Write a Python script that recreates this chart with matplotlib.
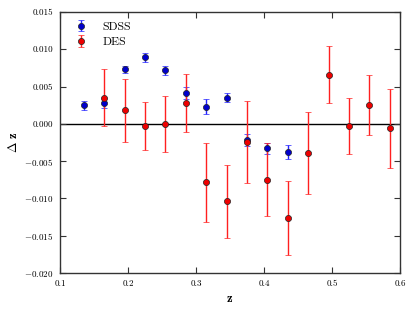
#!/usr/bin/env python3
import matplotlib

matplotlib.use("Agg")
import matplotlib.pyplot as plt

plt.rcParams["font.family"] = "cmr10"
plt.rcParams["mathtext.fontset"] = "cm"
plt.rcParams["axes.formatter.use_mathtext"] = True

# SDSS
sdss_z = [0.135, 0.165, 0.195, 0.225, 0.255, 0.285, 0.315, 0.345, 0.375, 0.405, 0.435]
sdss_dz = [0.0025, 0.0028, 0.0073, 0.0089, 0.0072, 0.0041, 0.0023, 0.0035, -0.0022, -0.0033, -0.0038]
sdss_err = [0.0006, 0.0007, 0.0005, 0.0006, 0.0006, 0.0008, 0.0010, 0.0006, 0.0008, 0.0007, 0.0009]

# DES
des_z = [0.165, 0.195, 0.225, 0.255, 0.285, 0.315, 0.345, 0.375, 0.405, 0.435,
         0.465, 0.495, 0.525, 0.555, 0.585]
des_dz = [0.0035, 0.0018, -0.0003, 0.0000, 0.0028, -0.0078, -0.0104, -0.0024, -0.0075, -0.0126,
          -0.0039, 0.0066, -0.0003, 0.0025, -0.0006]
des_err = [0.0038, 0.0042, 0.0032, 0.0038, 0.0039, 0.0053, 0.0049, 0.0055, 0.0049, 0.0050,
           0.0055, 0.0038, 0.0038, 0.0040, 0.0053]


def main() -> None:
    fig = plt.figure(figsize=(4.15, 3.12), dpi=100)
    ax = fig.add_axes([0.1446, 0.125, 0.8193, 0.8365])

    ax.axhline(0, color="black", lw=1.0, zorder=1)
    ax.errorbar(sdss_z, sdss_dz, yerr=sdss_err, fmt="o", color="#0000dd",
                ecolor="#2222ff", mfc="#0000cc", mec="#222222", mew=0.5, ms=4.4,
                elinewidth=1.0, capsize=2, capthick=0.8, label="SDSS", zorder=3)
    ax.errorbar(des_z, des_dz, yerr=des_err, fmt="o", color="#ee0000",
                ecolor="#ff2020", mfc="#ee0000", mec="#222222", mew=0.5, ms=4.4,
                elinewidth=1.0, capsize=2, capthick=0.8, label="DES", zorder=3)

    ax.set_xlim(0.1, 0.6)
    ax.set_ylim(-0.020, 0.015)
    ax.set_xticks([0.1, 0.2, 0.3, 0.4, 0.5, 0.6])
    ax.set_yticks([-0.020, -0.015, -0.010, -0.005, 0.0, 0.005, 0.010, 0.015])
    ax.xaxis.set_major_formatter(plt.FuncFormatter(lambda v, p: f"{v:.1f}"))
    ax.yaxis.set_major_formatter(
        plt.FuncFormatter(lambda v, p: (r"$-$" if v < -1e-9 else "") + f"{abs(v):.3f}"))
    ax.tick_params(direction="in", top=True, right=True, length=4, width=0.8,
                   labelsize=6.5, color="#333333", pad=5)
    for spine in ax.spines.values():
        spine.set_color("#333333")
        spine.set_linewidth(1.0)

    ax.set_xlabel(r"$\mathbf{z}$", fontsize=9, labelpad=3)
    ax.set_ylabel(r"$\mathbf{\Delta\ z}$", fontsize=9, labelpad=3)

    ax.legend(loc="upper left", frameon=False, fontsize=8.5, handletextpad=0.8,
              borderaxespad=0.4, labelspacing=0.45)

    fig.savefig("out.png", dpi=100)
    plt.close(fig)


if __name__ == "__main__":
    main()
